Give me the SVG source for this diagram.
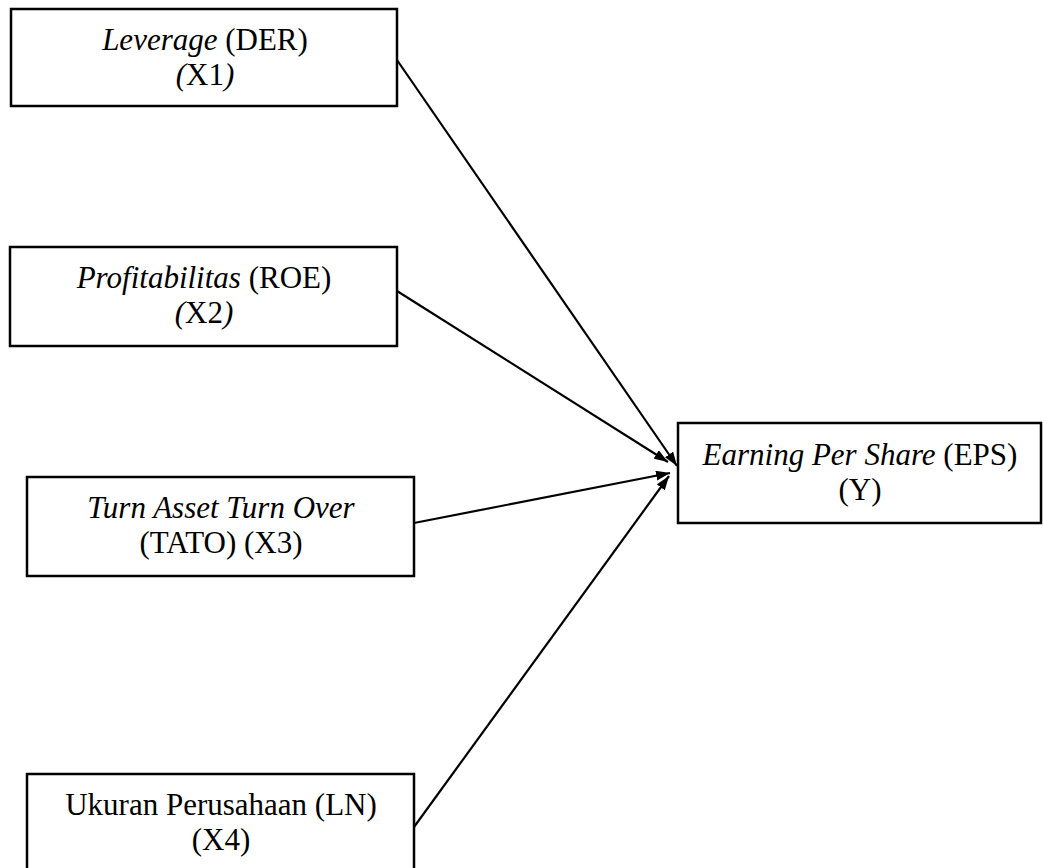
<svg xmlns="http://www.w3.org/2000/svg" width="1043" height="868" viewBox="0 0 1043 868">
<defs>
<style>
.box{fill:#fff;stroke:#000;stroke-width:2.5}
.t{font-family:"Liberation Serif","Times New Roman",serif;font-size:31px;fill:#000;text-anchor:middle}
.i{font-style:italic}
.c{stroke:#000;stroke-width:2.2;fill:none;marker-end:url(#ah)}
</style>
<marker id="ah" viewBox="0 0 14 10" refX="14" refY="5" markerWidth="14" markerHeight="10" markerUnits="userSpaceOnUse" orient="auto">
<path d="M0,0 L14,5 L0,10 z" fill="#000"/>
</marker>
</defs>
<rect width="1043" height="868" fill="#fff"/>
<g id="connectors">
<line class="c" x1="397" y1="60" x2="677" y2="466"/>
<line class="c" x1="397" y1="291" x2="668" y2="462"/>
<line class="c" x1="414" y1="523" x2="670" y2="473"/>
<line class="c" x1="414" y1="827" x2="669" y2="476"/>
</g>
<g id="x1">
<rect class="box" x="11" y="9" width="386" height="97"/>
<text class="t" x="205" y="50"><tspan class="i">Leverage</tspan> (DER)</text>
<text class="t" x="205" y="85"><tspan class="i">(</tspan>X1<tspan class="i">)</tspan></text>
</g>
<g id="x2">
<rect class="box" x="10" y="247" width="387" height="99"/>
<text class="t" x="204" y="288"><tspan class="i">Profitabilitas</tspan> (ROE)</text>
<text class="t" x="204" y="323"><tspan class="i">(</tspan>X2<tspan class="i">)</tspan></text>
</g>
<g id="x3">
<rect class="box" x="27" y="477" width="387" height="99"/>
<text class="t" x="221" y="518"><tspan class="i">Turn Asset Turn Over</tspan></text>
<text class="t" x="221" y="553">(TATO) (X3)</text>
</g>
<g id="x4">
<rect class="box" x="27" y="774" width="387" height="100"/>
<text class="t" x="221" y="815">Ukuran Perusahaan (LN)</text>
<text class="t" x="221" y="850">(X4)</text>
</g>
<g id="y">
<rect class="box" x="678" y="423" width="363" height="100"/>
<text class="t" x="860" y="465"><tspan class="i">Earning Per Share</tspan> (EPS)</text>
<text class="t" x="860" y="500">(Y)</text>
</g>
</svg>
